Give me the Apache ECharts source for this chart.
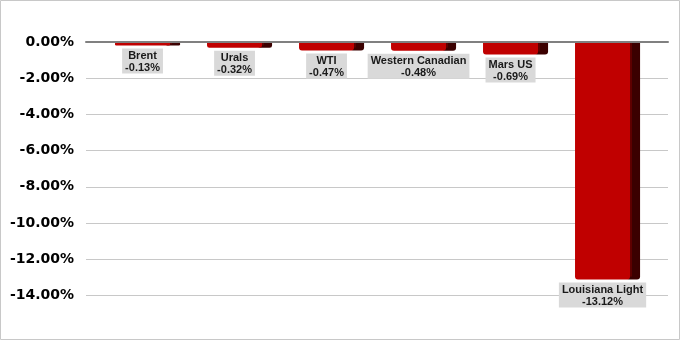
<!DOCTYPE html>
<html><head><meta charset="utf-8">
<script src="https://cdn.jsdelivr.net/npm/echarts@6/dist/echarts.min.js"></script>
<style>html,body{margin:0;padding:0;background:#fff}#c{width:681px;height:341px}</style>
</head><body><div id="c"></div>
<script>
const categories = ['Brent', 'Urals', 'WTI', 'Western Canadian', 'Mars US', 'Louisiana Light'];
const values = [-0.13, -0.32, -0.47, -0.48, -0.69, -13.12];
const yTicks = [0, -2, -4, -6, -8, -10, -12, -14];

const chart = echarts.init(document.getElementById('c'), null, {renderer: 'canvas'});

function renderItem(params, api) {
  const idx = api.value(0), v = api.value(1);
  const top = api.coord([idx, 0]);
  const bot = api.coord([idx, v]);
  const band = api.size([1, 0])[0];
  const cx = top[0];
  const left = cx - band * 0.353;
  const frontW = band * 0.598;
  const sideW = band * 0.109;
  const y0 = top[1] + 1;
  const h = Math.max(bot[1] - y0, 2.5);
  const r = Math.min(3, h / 2);
  return {
    type: 'group',
    children: [
      {type: 'rect', shape: {x: left + frontW - 4, y: y0, width: sideW + 4, height: h, r: [0, 0, r, r]}, style: {fill: '#3b0000'}},
      {type: 'rect', shape: {x: left + frontW, y: y0, width: 2, height: h - r}, style: {fill: '#5e0000'}},
      {type: 'rect', shape: {x: left, y: y0, width: frontW, height: h, r: [0, 0, r, r]}, style: {fill: '#c00000'}},
      {type: 'text', x: left + frontW / 2, y: y0 + h + 3, style: {
        text: categories[idx] + '\n' + v.toFixed(2) + '%',
        align: 'center', verticalAlign: 'top',
        font: 'bold 11px "Liberation Sans", Arial, sans-serif',
        lineHeight: 12, fill: '#1a1a1a',
        backgroundColor: '#d9d9d9', padding: [1, 3, 0, 3]
      }}
    ]
  };
}

chart.setOption({
  animation: false,
  backgroundColor: '#fff',
  graphic: [{type: 'rect', shape: {x: 0.5, y: 0.5, width: 679, height: 339}, style: {fill: 'none', stroke: '#c8c8c8', lineWidth: 1}, z: 100}],
  grid: [
    {left: 86, right: 13, top: 42, bottom: 45.5},
    {left: 101.5, right: 27.5, top: 42, bottom: 45.5}
  ],
  xAxis: [
    {gridIndex: 0, type: 'category', data: categories, axisLabel: {show: false}, axisTick: {show: false},
     axisLine: {show: true, onZero: true, lineStyle: {color: '#808080', width: 2}}, z: 5},
    {gridIndex: 1, type: 'category', data: categories, show: false}
  ],
  yAxis: [
    {gridIndex: 0, type: 'value', min: -14, max: 0, interval: 2,
     axisLine: {show: false}, axisTick: {show: false},
     splitLine: {show: true, lineStyle: {color: '#c8c8c8', width: 1}},
     axisLabel: {formatter: v => v.toFixed(2) + '%', margin: 12, color: '#000', padding: [3, 0, 0, 0],
       fontFamily: 'DejaVu Sans', fontWeight: 'bold', fontSize: 14}},
    {gridIndex: 1, type: 'value', min: -14, max: 0, interval: 2, show: false, splitLine: {show: false}}
  ],
  series: [{
    type: 'custom', xAxisIndex: 1, yAxisIndex: 1, clip: false,
    renderItem: renderItem,
    data: values.map((v, i) => [i, v]),
    z: 3
  }]
});
</script></body></html>
